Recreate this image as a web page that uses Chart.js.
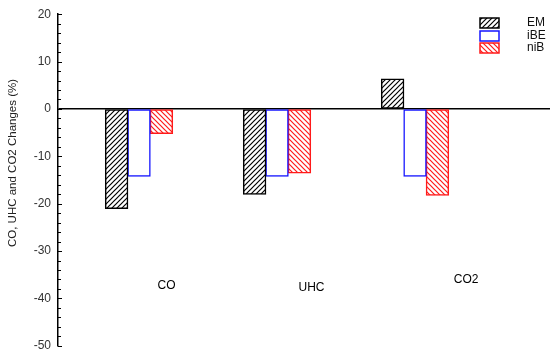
<!DOCTYPE html>
<html>
<head>
<meta charset="utf-8">
<script src="https://cdn.jsdelivr.net/npm/chart.js@4.4.1/dist/chart.umd.min.js"></script>
<style>
  html, body { margin: 0; background: #fff; }
  canvas { display: block; }
</style>
</head>
<body>
<canvas id="chart" width="550" height="360"></canvas>
<script>
// Values (% change)
const categories = ['CO', 'UHC', 'CO2'];
const seriesNames = ['EM', 'iBE', 'niB'];
const emValues = [-21, -18, 6.3];
const ibeValues = [-14.2, -14.2, -14.2];
const nibValues = [-5.2, -13.5, -18.2];
const yTicks = [-50, -40, -30, -20, -10, 0, 10, 20];
// where the category names sit inside the plot (x in group units, y in %)
const labelX = [1.2, 2.25, 3.37];
const labelY = [-37.3, -37.7, -36];

const FONT = 'Liberation Sans, Arial, sans-serif';
const canvas = document.getElementById('chart');
const ctx = canvas.getContext('2d');

// Diagonal hatch fill, dir 1 = "/" and -1 = "\"
function hatch(color, dir) {
    const n = 5;
    const c = document.createElement('canvas');
    c.width = c.height = n;
    const g = c.getContext('2d');
    g.fillStyle = '#fff';
    g.fillRect(0, 0, n, n);
    g.strokeStyle = color;
    g.lineWidth = 1.2;
    g.beginPath();
    if (dir > 0) {
        g.moveTo(-1, n + 1); g.lineTo(n + 1, -1);
        g.moveTo(-1, 1); g.lineTo(1, -1);
        g.moveTo(n - 1, n + 1); g.lineTo(n + 1, n - 1);
    } else {
        g.moveTo(-1, -1); g.lineTo(n + 1, n + 1);
        g.moveTo(n - 1, -1); g.lineTo(n + 1, 1);
        g.moveTo(-1, n - 1); g.lineTo(1, n + 1);
    }
    g.stroke();
    return ctx.createPattern(c, 'repeat');
}

function points(values) {
    return values.map((v, i) => ({ x: i + 1, y: v }));
}

const styles = [
    { fill: hatch('#000', 1), line: '#000' },
    { fill: '#fff', line: '#1414ff' },
    { fill: hatch('#ff1a1a', -1), line: '#ff1a1a' }
];

const allValues = [emValues, ibeValues, nibValues];

// Extra drawing: inner minor ticks, axis title, category names, legend
const extras = {
    id: 'extras',
    afterDraw(chart) {
        const c = chart.ctx;
        const y = chart.scales.y;
        const x = chart.scales.x;
        const left = chart.chartArea.left;

        c.save();
        c.strokeStyle = '#000';
        c.lineWidth = 1;
        for (let v = -50; v <= 20; v += 2) {
            const py = Math.round(y.getPixelForValue(v)) + 0.5;
            const len = v % 10 === 0 ? 4 : 3;
            c.beginPath();
            c.moveTo(left, py);
            c.lineTo(left + len, py);
            c.stroke();
        }

        c.fillStyle = '#222';
        c.font = '11.5px ' + FONT;
        c.textAlign = 'center';
        c.textBaseline = 'middle';
        c.save();
        c.translate(13, 163);
        c.rotate(-Math.PI / 2);
        c.fillText('CO, UHC and CO2 Changes (%)', 0, 0);
        c.restore();

        c.font = '12px ' + FONT;
        c.fillStyle = '#000';
        categories.forEach((name, i) => {
            c.fillText(name, x.getPixelForValue(labelX[i]), y.getPixelForValue(labelY[i]));
        });

        c.textAlign = 'left';
        const boxY = [18, 31, 43];
        seriesNames.forEach((name, i) => {
            c.fillStyle = styles[i].fill;
            c.fillRect(480, boxY[i], 19, 10);
            c.strokeStyle = styles[i].line;
            c.lineWidth = 1.5;
            c.strokeRect(480, boxY[i], 19, 10);
            c.fillStyle = '#111';
            c.fillText(name, 527, boxY[i] + 5);
        });
        c.restore();
    }
};

new Chart(ctx, {
    type: 'bar',
    data: {
        datasets: seriesNames.map((name, i) => ({
            label: name,
            data: points(allValues[i]),
            backgroundColor: styles[i].fill,
            borderColor: styles[i].line,
            borderWidth: 1.5,
            borderSkipped: false,
            inflateAmount: 0.5,
            barPercentage: 1,
            categoryPercentage: 0.487
        }))
    },
    options: {
        responsive: false,
        animation: false,
        devicePixelRatio: 1,
        layout: { padding: { top: 10, bottom: 12, left: 0, right: 0 } },
        plugins: {
            legend: { display: false },
            tooltip: { enabled: false }
        },
        scales: {
            x: {
                type: 'linear',
                min: 0.413,
                max: 3.978,
                offset: false,
                display: false,
                afterBuildTicks: s => { s.ticks = categories.map((_, i) => ({ value: i + 1 })); }
            },
            y: {
                min: -50,
                max: 20,
                afterFit: s => { s.width = 58; },
                afterBuildTicks: s => { s.ticks = yTicks.map(v => ({ value: v })); },
                ticks: {
                    padding: 7,
                    color: '#333',
                    font: { family: FONT, size: 12 }
                },
                grid: {
                    drawTicks: false,
                    lineWidth: 1.5,
                    color: c => (c.tick && c.tick.value === 0) ? '#000' : 'rgba(0,0,0,0)'
                },
                border: { color: '#000', width: 1.5 }
            }
        }
    },
    plugins: [extras]
});
</script>
</body>
</html>
